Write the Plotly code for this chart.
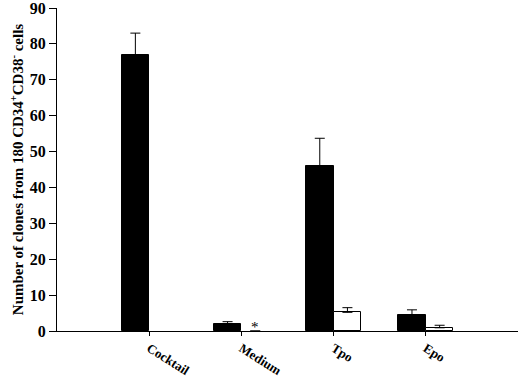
import plotly.graph_objects as go

categories = ["Cocktail", "Medium", "Tpo", "Epo"]
positions = [1, 2, 3, 4]
black_values = [76.9, 1.9, 46.0, 4.4]
black_errors = [6.1, 0.7, 7.7, 1.5]
white_values = [None, 0, 5.2, 0.9]
white_errors = [None, None, 1.3, 0.7]

font_family = "Liberation Serif, Times New Roman, serif"

fig = go.Figure()
fig.add_trace(go.Bar(
    x=positions, y=black_values, width=0.30, offset=-0.30,
    marker=dict(color="black", line=dict(color="black", width=1)),
    error_y=dict(type="data", symmetric=False, array=black_errors,
                 arrayminus=[0] * 4, color="black", thickness=1, width=5),
    showlegend=False,
))
fig.add_trace(go.Bar(
    x=positions, y=white_values, width=0.30, offset=0.0,
    marker=dict(color="white",
                line=dict(color="black",
                          width=[1 if (v or 0) > 0 else 0 for v in white_values])),
    error_y=dict(type="data", symmetric=False, array=white_errors,
                 arrayminus=[0] * 4, color="black", thickness=1, width=5),
    showlegend=False,
))
fig.add_annotation(x=2.15, y=1.0, text="*", showarrow=False,
                   font=dict(family=font_family, size=15, color="black"),
                   xanchor="center", yanchor="middle")

fig.update_layout(
    width=520, height=377,
    margin=dict(l=57, r=2, t=8, b=46),
    plot_bgcolor="white", paper_bgcolor="white",
    bargap=0,
    font=dict(family=font_family, color="black"),
    xaxis=dict(range=[0, 5], tickmode="array", tickvals=positions,
               ticktext=categories, tickangle=32, ticks="outside",
               ticklen=4, tickcolor="black", showline=True,
               linecolor="black", linewidth=1, showgrid=False,
               zeroline=False, automargin=False,
               ticklabeloverflow="allow",
               tickfont=dict(family=font_family, size=13, color="black",
                             weight="bold")),
    yaxis=dict(range=[0, 90], dtick=10, ticks="outside", ticklen=7,
               tickcolor="black", showline=True, linecolor="black",
               linewidth=1, showgrid=False, zeroline=False,
               automargin=False, ticklabeloverflow="allow",
               tickfont=dict(family=font_family, size=16, color="black",
                             weight="bold"),
               title=dict(text="Number of clones from 180 CD34<sup>+</sup>CD38<sup>-</sup> cells",
                          font=dict(family=font_family, size=15,
                                    color="black", weight="bold"),
                          standoff=2)),
)

fig.write_html("out.html",
               config={"displayModeBar": False},
               post_script="document.body.style.margin='0';")
